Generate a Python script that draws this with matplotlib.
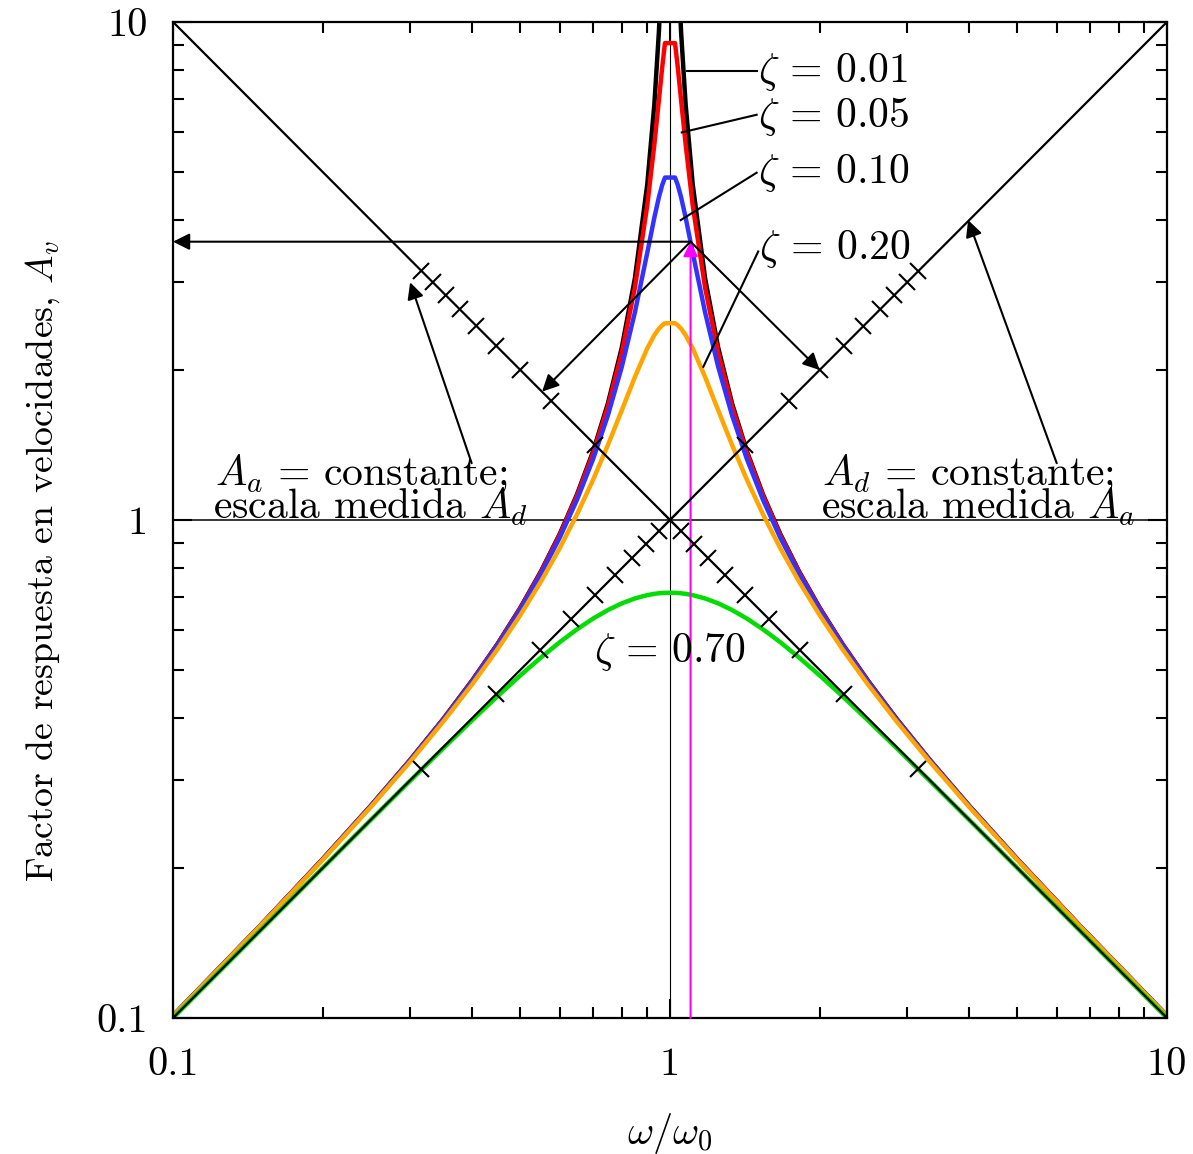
import matplotlib.pyplot as plt
from matplotlib.markers import MarkerStyle
from matplotlib.ticker import NullFormatter
from matplotlib.transforms import Affine2D

plt.rcParams["font.family"] = "cmr10"
plt.rcParams["mathtext.fontset"] = "cm"
plt.rcParams["axes.formatter.use_mathtext"] = True

FS = 30       # annotation text
FS_TICK = 29  # tick labels

# ---------------------------------------------------------------------------
# Data
# ---------------------------------------------------------------------------
w_ratio = [0.1, 0.15, 0.2, 0.25, 0.3, 0.35, 0.4, 0.45, 0.5, 0.55, 0.6, 0.65,
           0.7, 0.75, 0.8, 0.85, 0.9, 0.93, 0.95, 0.965, 0.977,
           1.0235, 1.0363, 1.0526, 1.0753, 1.1111, 1.1765, 1.25, 1.3333,
           1.4286, 1.5385, 1.6667, 1.8182, 2.0, 2.2222, 2.5, 2.8571, 3.3333,
           4.0, 5.0, 6.6667, 10.0]

av_z001 = [0.1010, 0.1534, 0.2083, 0.2667, 0.3297, 0.3988, 0.4762, 0.5642,
           0.6666, 0.7885, 0.9373, 1.1252, 1.3720, 1.7132, 2.2200, 3.0571,
           4.7156, 6.8196, 9.5638, 13.51, 19.74,
           19.74, 13.51, 9.5638, 6.8196, 4.7156, 3.0571, 2.2200, 1.7132,
           1.3720, 1.1252, 0.9373, 0.7885, 0.6666, 0.5642, 0.4762, 0.3988,
           0.3297, 0.2667, 0.2083, 0.1534, 0.1010]
av_z005 = [0.1010, 0.1534, 0.2083, 0.2666, 0.3295, 0.3985, 0.4756, 0.5633,
           0.6652, 0.7862, 0.9334, 1.1185, 1.3598, 1.6896, 2.1693, 2.9285,
           4.2808, 5.6703, 6.9787, 8.143, 9.066,
           9.066, 8.143, 6.9787, 5.6703, 4.2808, 2.9285, 2.1693, 1.6896,
           1.3598, 1.1185, 0.9334, 0.7862, 0.6652, 0.5633, 0.4756, 0.3985,
           0.3295, 0.2666, 0.2083, 0.1534, 0.1010]
av_z010 = [0.1010, 0.1534, 0.2082, 0.2663, 0.3290, 0.3976, 0.4740, 0.5607,
           0.6608, 0.7790, 0.9214, 1.0980, 1.3236, 1.6216, 2.0307, 2.6118,
           3.4387, 4.0455, 4.4485, 4.710, 4.870,
           4.870, 4.710, 4.4485, 4.0455, 3.4387, 2.6118, 2.0307, 1.6216,
           1.3236, 1.0980, 0.9214, 0.7790, 0.6608, 0.5607, 0.4740, 0.3976,
           0.3290, 0.2663, 0.2082, 0.1534, 0.1010]
av_z020 = [0.1009, 0.1532, 0.2076, 0.2652, 0.3268, 0.3939, 0.4678, 0.5504,
           0.6442, 0.7521, 0.8778, 1.0263, 1.2032, 1.4138, 1.6609, 1.9367,
           2.2109, 2.3498, 2.4216, 2.461, 2.483,
           2.483, 2.461, 2.4216, 2.3498, 2.2109, 1.9367, 1.6609, 1.4138,
           1.2032, 1.0263, 0.8778, 0.7521, 0.6442, 0.5504, 0.4678, 0.3939,
           0.3268, 0.2652, 0.2076, 0.1532, 0.1009]
av_z070 = [0.1000, 0.1500, 0.2000, 0.2498, 0.2993, 0.3482, 0.3962, 0.4428,
           0.4874, 0.5294, 0.5682, 0.6031, 0.6336, 0.6593, 0.6800, 0.6956,
           0.7063, 0.7105, 0.7124, 0.7134, 0.7139,
           0.7139, 0.7134, 0.7124, 0.7105, 0.7063, 0.6956, 0.6800, 0.6593,
           0.6336, 0.6031, 0.5682, 0.5294, 0.4874, 0.4428, 0.3962, 0.3482,
           0.2993, 0.2498, 0.2000, 0.1500, 0.1000]

zeta_labels = ["0.01", "0.05", "0.10", "0.20"]

# tick marks on the diagonal scales
rise_tick_x = [0.316, 0.447, 0.548, 0.632, 0.707, 0.775, 0.837, 0.894, 0.949,
               1.0, 1.414, 1.732, 2.0, 2.236, 2.449, 2.646, 2.828, 3.0, 3.162]
rise_tick_y = rise_tick_x
fall_tick_x = [0.316, 0.333, 0.354, 0.378, 0.408, 0.447, 0.5, 0.577, 0.707,
               1.0, 1.054, 1.118, 1.195, 1.291, 1.414, 1.581, 1.826, 2.236, 3.162]
fall_tick_y = [3.162, 3.0, 2.828, 2.646, 2.449, 2.236, 2.0, 1.732, 1.414,
               1.0, 0.949, 0.894, 0.837, 0.775, 0.707, 0.632, 0.548, 0.447, 0.316]

# example reading on the zeta = 0.10 curve
read_x, read_y = 1.1, 3.62
read_ad = (0.553, 1.81)   # on the A_a = const line
read_aa = (2.0, 2.0)      # on the A_d = const line

# ---------------------------------------------------------------------------
# Figure
# ---------------------------------------------------------------------------
fig = plt.figure(figsize=(11.93, 11.54), dpi=100)
ax = fig.add_axes([0.1450, 0.1179, 0.8332, 0.8631])
ax.set_xscale("log")
ax.set_yscale("log")
ax.set_xlim(0.1, 10)
ax.set_ylim(0.1, 10)

# reference lines
ax.plot([0.1, 10], [0.1, 10], color="k", lw=1.6, zorder=4)
ax.plot([0.1, 10], [10, 0.1], color="k", lw=1.6, zorder=4)
ax.plot([0.1, 10], [1, 1], color="k", lw=1.1, zorder=1)
ax.plot([1, 1], [0.1, 10], color="k", lw=0.8, zorder=1)

# response curves
ax.plot(w_ratio, av_z001, color="k", lw=3.2, zorder=2)
ax.plot(w_ratio, av_z005, color="#FF0000", lw=3.2, zorder=2)
ax.plot(w_ratio, av_z010, color="#3333FF", lw=3.2, zorder=2)
ax.plot(w_ratio, av_z020, color="#FFA500", lw=3.2, zorder=2)
ax.plot(w_ratio, av_z070, color="#00DD00", lw=3.2, zorder=2)

# scale ticks on the diagonals
mk_rise = MarkerStyle("_", transform=Affine2D().rotate_deg(-45))
mk_fall = MarkerStyle("_", transform=Affine2D().rotate_deg(45))
ax.plot(rise_tick_x, rise_tick_y, ls="none", marker=mk_rise, ms=17,
        mew=1.5, color="k", zorder=4)
ax.plot(fall_tick_x, fall_tick_y, ls="none", marker=mk_fall, ms=17,
        mew=1.5, color="k", zorder=4)

# zeta labels with leader lines
label_x = [1.50, 1.50, 1.50, 1.508]
label_y = [7.59, 6.16, 4.745, 3.343]
lead_x0 = [1.080, 1.056, 1.051, 1.167]
lead_y0 = [7.98, 6.00, 4.00, 2.03]
lead_x1 = [1.494, 1.494, 1.494, 1.505]
lead_y1 = [7.98, 6.51, 4.98, 3.46]
for lab, tx, ty, x0, y0, x1, y1 in zip(zeta_labels, label_x, label_y,
                                       lead_x0, lead_y0, lead_x1, lead_y1):
    ax.plot([x0, x1], [y0, y1], color="k", lw=1.5, zorder=5)
    ax.text(tx, ty, r"$\zeta\,=\,%s$" % lab, fontsize=FS,
            ha="left", va="baseline", zorder=6)
ax.text(1.0, 0.5187, r"$\zeta\,=\,0.70$", fontsize=FS, ha="center",
        va="baseline", zorder=6)

# reading arrows
arrow_kw = dict(arrowstyle="-|>", color="k", lw=1.5, mutation_scale=25,
                shrinkA=0, shrinkB=0)
ax.annotate("", xy=(0.1, read_y), xytext=(read_x, read_y),
            arrowprops=arrow_kw, zorder=5)
ax.annotate("", xy=read_ad, xytext=(read_x, read_y),
            arrowprops=arrow_kw, zorder=5)
ax.annotate("", xy=read_aa, xytext=(read_x, read_y),
            arrowprops=arrow_kw, zorder=5)
ax.annotate("", xy=(read_x, read_y), xytext=(read_x, 0.1),
            arrowprops=dict(arrowstyle="-|>", color="#FF00FF", lw=1.5,
                            mutation_scale=22, shrinkA=0, shrinkB=0),
            zorder=3)

# scale annotations
ax.annotate("", xy=(0.30, 3.0), xytext=(0.399, 1.30),
            arrowprops=arrow_kw, zorder=5)
ax.annotate("", xy=(3.98, 4.0), xytext=(6.0, 1.30),
            arrowprops=arrow_kw, zorder=5)
ax.text(0.1215, 1.175, r"$A_a\,=\,$constante;", fontsize=FS, va="baseline")
ax.text(0.1206, 1.004, r"escala medida $A_d$", fontsize=FS, va="baseline")
ax.text(2.02, 1.175, r"$A_d\,=\,$constante;", fontsize=FS, va="baseline")
ax.text(2.01, 1.004, r"escala medida $A_a$", fontsize=FS, va="baseline")

# axes styling
ax.set_xticks([0.1, 1, 10], labels=["0.1", "1", "10"])
ax.set_yticks([0.1, 1, 10], labels=["0.1", "1", "10"])
ax.xaxis.set_minor_formatter(NullFormatter())
ax.yaxis.set_minor_formatter(NullFormatter())
ax.tick_params(which="both", direction="in", top=True, right=True,
               width=1.5, labelsize=FS_TICK)
ax.tick_params(which="major", length=14)
ax.tick_params(which="minor", length=8)
ax.tick_params(axis="x", pad=21)
ax.tick_params(axis="y", pad=18)
for sp in ax.spines.values():
    sp.set_linewidth(1.6)

ax.set_xlabel(r"$\omega/\omega_0$", fontsize=FS_TICK)
ax.xaxis.set_label_coords(0.5, -0.093)
ax.set_ylabel(r"Factor de respuesta en velocidades, $A_v$", fontsize=27.3)
ax.yaxis.set_label_coords(-0.112, 0.459)

fig.savefig("out.png", dpi=100)
